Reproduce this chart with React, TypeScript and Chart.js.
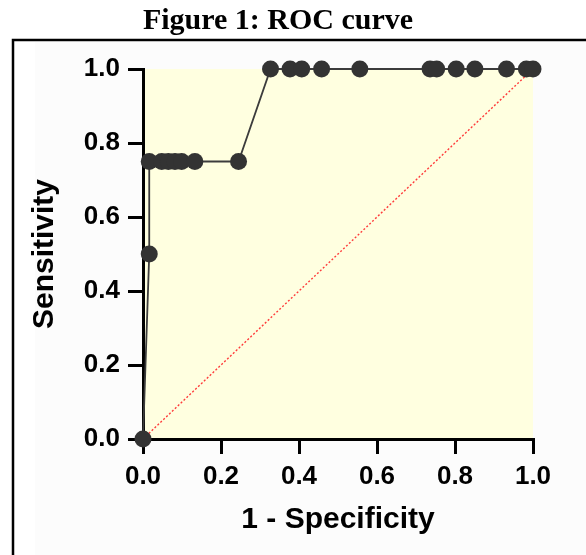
import React, { useEffect, useRef } from "react";
import { Chart, registerables } from "chart.js";

Chart.register(...registerables);

const chartTitle = "Figure 1: ROC curve";
const xAxisTitle = "1 - Specificity";
const yAxisTitle = "Sensitivity";

// 1 - Specificity (false positive rate)
const fpr = [
  0, 0.016, 0.016, 0.048, 0.065, 0.082, 0.099, 0.133, 0.245,
  0.327, 0.377, 0.407, 0.458, 0.556, 0.736, 0.753, 0.803, 0.851, 0.932, 0.983, 1.0,
];
// Sensitivity (true positive rate)
const tpr = [
  0, 0.5, 0.75, 0.75, 0.75, 0.75, 0.75, 0.75, 0.75,
  1, 1, 1, 1, 1, 1, 1, 1, 1, 1, 1, 1,
];
const refX = [0, 1];
const refY = [0, 1];
const tickValues = [0, 0.2, 0.4, 0.6, 0.8, 1.0];

const SANS = "'Liberation Sans', Arial, Helvetica, sans-serif";
const SERIF = "'Liberation Serif', 'Times New Roman', serif";

const framePlugin = {
  id: "frame",
  beforeDraw(chart: any) {
    const { ctx, chartArea } = chart;
    ctx.save();
    ctx.fillStyle = "#ffffff";
    ctx.fillRect(0, 0, chart.width, chart.height);
    ctx.fillStyle = "#fcfcfc";
    ctx.fillRect(35, 42, chart.width, chart.height);
    ctx.strokeStyle = "#000000";
    ctx.lineWidth = 2.5;
    ctx.beginPath();
    ctx.moveTo(13, chart.height + 5);
    ctx.lineTo(13, 40);
    ctx.lineTo(chart.width + 5, 40);
    ctx.stroke();
    ctx.fillStyle = "#000000";
    ctx.font = `bold 30px ${SERIF}`;
    ctx.textAlign = "center";
    ctx.textBaseline = "alphabetic";
    ctx.fillText(chartTitle, 278, 29);
    ctx.fillStyle = "#ffffe0";
    ctx.fillRect(
      chartArea.left,
      chartArea.top,
      chartArea.right - chartArea.left,
      chartArea.bottom - chartArea.top
    );
    ctx.restore();
  },
};

export default function App() {
  const ref = useRef<HTMLCanvasElement | null>(null);
  useEffect(() => {
    if (!ref.current) return;
    const chart = new Chart(ref.current, {
      type: "scatter",
      data: {
        datasets: [
          {
            label: "ROC",
            data: fpr.map((x, i) => ({ x, y: tpr[i] })),
            showLine: true,
            borderColor: "#3c3c3c",
            borderWidth: 1.8,
            backgroundColor: "#333333",
            pointBackgroundColor: "#333333",
            pointBorderWidth: 0,
            pointRadius: 8.5,
            clip: false,
          } as any,
          {
            label: "Reference",
            data: refX.map((x, i) => ({ x, y: refY[i] })),
            showLine: true,
            borderColor: "#ff3b3b",
            borderWidth: 1.4,
            borderDash: [2, 2],
            pointRadius: 0,
            clip: false,
          } as any,
        ],
      },
      options: {
        animation: false,
        responsive: false,
        devicePixelRatio: 1,
        layout: {
          autoPadding: false,
          padding: { left: 0, top: 69, right: 53, bottom: 0 },
        },
        plugins: {
          legend: { display: false },
          tooltip: { enabled: false },
          title: { display: false },
        },
        scales: {
          x: {
            type: "linear",
            min: 0,
            max: 1,
            afterFit(scale: any) {
              scale.height = 116;
            },
            afterBuildTicks(scale: any) {
              scale.ticks = tickValues.map((v) => ({ value: v }));
            },
            border: { display: true, color: "#000000", width: 3 },
            grid: {
              drawOnChartArea: false,
              drawTicks: true,
              color: "#000000",
              lineWidth: 3,
              tickLength: 15,
            },
            ticks: {
              color: "#000000",
              padding: 7,
              font: { family: SANS, size: 26, weight: "bold" },
              callback: (v: any) => Number(v).toFixed(1),
              maxRotation: 0,
            },
            title: {
              display: true,
              text: xAxisTitle,
              color: "#000000",
              font: { family: SANS, size: 30, weight: "bold" },
              padding: { top: 0, bottom: 17 },
            },
          },
          y: {
            type: "linear",
            min: 0,
            max: 1,
            afterFit(scale: any) {
              scale.width = 143;
            },
            afterBuildTicks(scale: any) {
              scale.ticks = tickValues.map((v) => ({ value: v }));
            },
            border: { display: true, color: "#000000", width: 3 },
            grid: {
              drawOnChartArea: false,
              drawTicks: true,
              color: "#000000",
              lineWidth: 3,
              tickLength: 15,
            },
            ticks: {
              color: "#000000",
              padding: 8,
              font: { family: SANS, size: 26, weight: "bold" },
              callback: (v: any) => Number(v).toFixed(1),
            },
            title: {
              display: true,
              text: yAxisTitle,
              color: "#000000",
              font: { family: SANS, size: 30, weight: "bold" },
              padding: { top: 27, bottom: 0 },
            },
          },
        },
      } as any,
      plugins: [framePlugin],
    });
    return () => chart.destroy();
  }, []);
  return (
    <div style={{ position: "fixed", left: 0, top: 0, width: 586, height: 555 }}>
      <canvas ref={ref} width={586} height={555} style={{ display: "block" }} />
    </div>
  );
}
